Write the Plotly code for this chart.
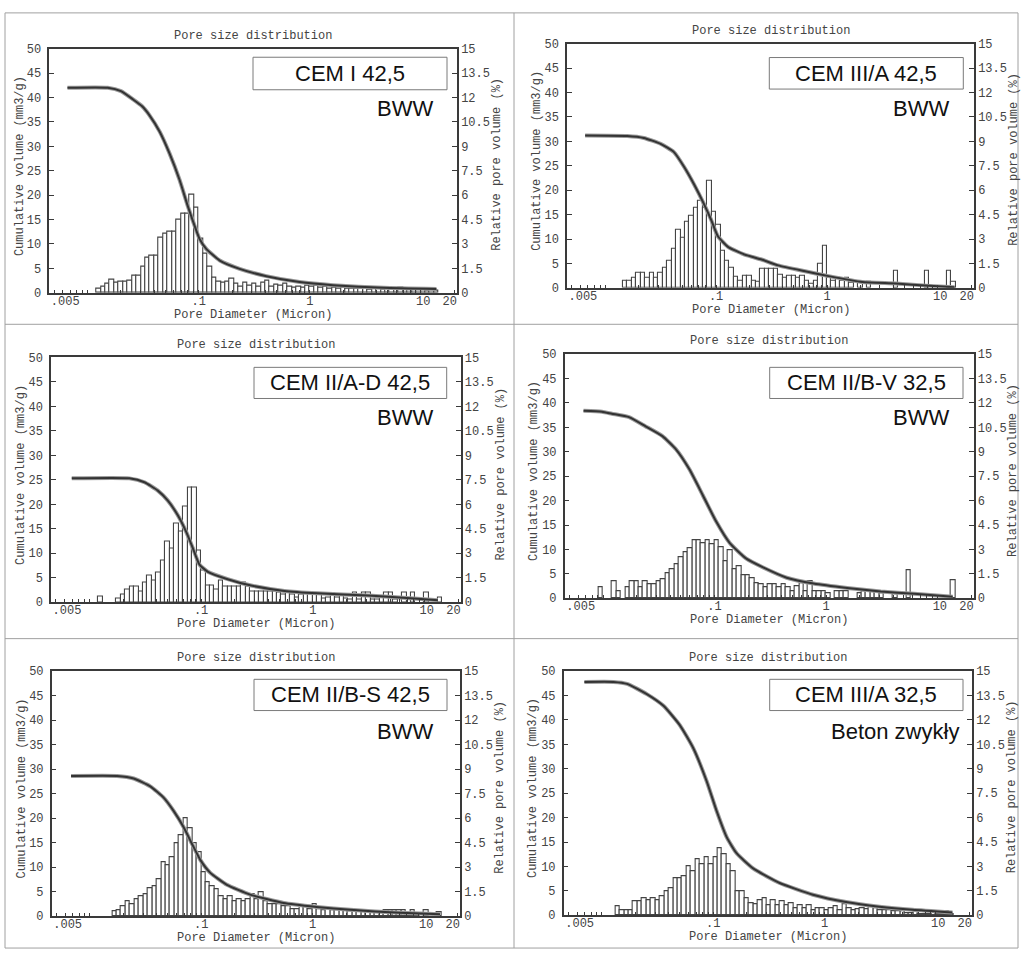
import numpy as np
import plotly.graph_objects as go

W, H = 1023, 959

# ---------------- data ----------------
# histogram bins: uniform in log10(diameter); bin k centre = BIN_LOG_START + k*BIN_LOG_STEP
BIN_LOG_START = -2.30
BIN_LOG_STEP = 0.04

panel_names = ["CEM I 42,5", "CEM III/A 42,5", "CEM II/A-D 42,5",
               "CEM II/B-V 32,5", "CEM II/B-S 42,5", "CEM III/A 32,5"]
panel_notes = ["BWW", "BWW", "BWW", "BWW", "BWW", "Beton zwykły"]

# relative pore volume (%) per bin, starting at bin index rel_first_bin[i]
rel_first_bin = [10, 12, 10, 7, 13, 11]

rel_p1 = [0.24, 0.39, 0.54, 0.81, 0.6, 0.69, 0.69, 0.75, 1.08, 1.08,
          1.59, 2.16, 2.31, 2.31, 3.36, 3.66, 3.78, 3.78, 4.5, 4.86,
          4.86, 6.0, 5.25, 3.3, 2.4, 1.59, 0.9, 0.66, 0.6, 0.66,
          0.84, 0.54, 0.36, 0.6, 0.45, 0.54, 0.36, 0.6, 0.72, 0.36,
          0.51, 0.45, 0.57, 0.39, 0.3, 0.39, 0.3, 0.45, 0.36, 0.45,
          0.3, 0.36, 0.27, 0.3, 0.24, 0.3, 0.24, 0.27, 0.24, 0.24,
          0.27, 0.21, 0.24, 0.24, 0.21, 0.24, 0.24, 0.27, 0.3, 0.27,
          0.21, 0.24, 0.18, 0.27, 0.15, 0.18, 0.12]
rel_p2 = [0.45, 0.45, 0.63, 0.9, 0.9, 0.63, 0.9, 0.63, 0.9, 1.26,
          1.65, 2.4, 3.54, 3.06, 4.05, 4.44, 4.95, 5.34, 4.95, 6.6,
          4.65, 3.9, 2.25, 1.65, 1.26, 0.66, 0.45, 0.75, 0.75, 0.45,
          0.39, 1.2, 1.2, 1.2, 1.2, 0.78, 0.6, 0.75, 0.75, 0.6,
          0.75, 0.45, 0.24, 0.45, 1.5, 2.58, 0.6, 0.45, 0.6, 0.45,
          0.6, 0.3, 0, 0.36, 0, 0.36, 0, 0, 0, 0,
          0, 1.05, 0, 0, 0, 0, 0, 0, 1.05, 0,
          0, 0, 0, 1.05, 0.36]
rel_p3 = [0.36, 0, 0, 0, 0.24, 0.45, 0.75, 0.99, 0.99, 0.66,
          1.2, 1.65, 1.35, 1.8, 2.55, 3.75, 3.3, 4.8, 4.35, 5.85,
          7.05, 7.05, 3.15, 1.95, 1.05, 1.05, 0.75, 1.35, 0.99, 0.99,
          0.99, 0.99, 1.2, 0.99, 0.66, 0.66, 0.66, 0.66, 0.66, 0.66,
          0.6, 0.45, 0.6, 0.45, 0.3, 0.45, 0.54, 0.54, 0.54, 0.54,
          0.24, 0.3, 0.54, 0.3, 0.45, 0.24, 0.15, 0.6, 0.15, 0.6,
          0.6, 0.15, 0.15, 0.3, 0.6, 0.6, 0.15, 0, 0.6, 0,
          0.6, 0, 0, 0.6, 0, 0, 0.3]
rel_p4 = [0.66, 0, 0, 1.05, 0.45, 0, 0.66, 1.05, 1.05, 0.66,
          1.05, 0.84, 0.84, 1.05, 1.2, 1.56, 1.8, 2.1, 2.55, 2.85,
          3.06, 3.54, 3.54, 3.36, 3.54, 3.3, 3.54, 3.15, 2.25, 2.94,
          1.8, 1.95, 1.44, 1.44, 1.26, 0.9, 0.84, 0.66, 0.84, 0.84,
          0.66, 0.84, 0.66, 0.45, 0.75, 0.9, 0.45, 1.05, 0.45, 0.45,
          0.45, 0.3, 0, 0.45, 0.45, 0.45, 0, 0, 0.3, 0.45,
          0.45, 0.45, 0.45, 0.3, 0, 0, 0.24, 0, 0, 1.74,
          0, 0, 0, 0, 0, 0, 0, 0, 0, 1.11]
rel_p5 = [0.3, 0.36, 0.6, 0.9, 0.75, 1.05, 1.2, 1.35, 1.74, 1.86,
          2.25, 3.3, 3.15, 3.6, 4.5, 4.95, 6.0, 5.4, 4.5, 3.9,
          2.7, 2.1, 1.86, 1.65, 1.2, 1.05, 1.2, 0.9, 1.05, 0.9,
          1.05, 1.35, 1.05, 1.5, 0.9, 0.75, 0.75, 0.75, 0.6, 0.6,
          0.45, 0.45, 0.6, 0.6, 0.45, 0.75, 0.45, 0.36, 0.45, 0.39,
          0.39, 0.39, 0.39, 0.3, 0.39, 0.3, 0.36, 0.3, 0.24, 0.3,
          0.24, 0.36, 0.36, 0.36, 0.36, 0.36, 0.15, 0.36, 0.15, 0,
          0.36, 0, 0, 0.24]
rel_p6 = [0.54, 0.3, 0.3, 0.3, 0.84, 0.84, 1.05, 0.9, 1.05, 0.9,
          1.2, 1.5, 1.65, 2.25, 2.25, 2.4, 3.0, 2.7, 3.45, 3.15,
          3.6, 3.15, 3.6, 4.14, 3.75, 3.15, 2.7, 1.5, 1.5, 1.05,
          0.75, 0.66, 0.9, 1.05, 0.6, 0.9, 0.6, 0.84, 0.6, 0.75,
          0.45, 0.6, 0.45, 0.6, 0.3, 0.45, 0.45, 0.3, 0.45, 0.54,
          0.3, 0.66, 0.45, 0.3, 0.36, 0.45, 0.36, 0.6, 0.45, 0.3,
          0.3, 0.3, 0.24, 0.24, 0.24, 0.15, 0.15, 0.24, 0.09, 0.09,
          0.09, 0.24, 0.09, 0.09, 0.24, 0.09]

# cumulative volume curves: pore diameter (micron) and volume (mm3/g)
cum_d_p1 = [0.0066, 0.0152, 0.0200, 0.0257, 0.031, 0.036, 0.0446, 0.0548, 0.0674, 0.080, 0.092,
            0.102, 0.117, 0.155, 0.234, 0.407, 0.81, 1.62, 4.6, 13.8]
cum_v_p1 = [42, 42, 41.3, 39.6, 38.2, 36.4, 33.0, 28.5, 23.1, 17.7, 13.7,
            11, 9, 6.6, 4.9, 3.4, 2.2, 1.55, 1.0, 0.75]
cum_d_p2 = [0.0066, 0.0158, 0.0223, 0.0316, 0.0417, 0.0514, 0.0636, 0.0784, 0.090, 0.1035,
            0.128, 0.181, 0.257, 0.363, 0.635, 1.035, 2.08, 4.17, 8.4, 14.1]
cum_v_p2 = [31.2, 31.1, 30.7, 29.5, 27.8, 24.8, 21.1, 17.0, 14, 10.6,
            8.4, 6.8, 5.8, 4.6, 3.4, 2.4, 1.2, 0.9, 0.4, 0.1]
cum_d_p3 = [0.00695, 0.0228, 0.0311, 0.041, 0.0502, 0.0617, 0.0734, 0.0842, 0.0966, 0.115,
            0.173, 0.281, 0.558, 1.11, 3.11, 8.7, 13.2]
cum_v_p3 = [25.3, 25.3, 24.5, 22.8, 20.8, 17.8, 14.4, 11.1, 7.7, 6.2,
            4.7, 3.4, 2.3, 1.8, 1.35, 0.7, 0.4]
cum_d_p4 = [0.00668, 0.0098, 0.012, 0.0171, 0.0241, 0.0341, 0.0451, 0.0595, 0.0785, 0.1035,
            0.137, 0.193, 0.273, 0.444, 0.774, 1.55, 3.1, 6.2, 13.7]
cum_v_p4 = [38.4, 38.2, 37.8, 37.1, 35.2, 33.2, 30.5, 26.4, 21.1, 15.7,
            11.3, 8.1, 6.3, 4.2, 3.0, 2.1, 1.4, 0.9, 0.3]
cum_d_p5 = [0.00676, 0.0175, 0.0247, 0.0348, 0.0459, 0.0564, 0.0693, 0.0824, 0.098, 0.12,
            0.17, 0.275, 0.55, 1.09, 2.18, 6.1, 14.0]
cum_v_p5 = [28.6, 28.6, 28.1, 26.5, 24.2, 21.5, 18.2, 14.8, 11.5, 8.9,
            6.4, 4.4, 2.7, 1.9, 1.3, 0.7, 0.4]
cum_d_p6 = [0.00695, 0.0127, 0.0168, 0.0253, 0.0357, 0.0502, 0.0662, 0.0871, 0.107, 0.132,
            0.162, 0.228, 0.395, 0.787, 1.56, 3.11, 6.18, 14.1]
cum_v_p6 = [47.8, 47.8, 47.4, 45.3, 42.9, 38.9, 34.2, 27.5, 21.4, 16.0,
            12.7, 9.6, 6.6, 4.2, 2.7, 1.75, 1.1, 0.55]

x_tick_text = [".005", ".1", "1", "10", "20"]
x_tick_label_diam = [0.0063, 0.1, 1, 10.5, 18.2]
x_minor_diam = [0.005, 0.006, 0.007, 0.008, 0.009, 0.01, 0.02, 0.03, 0.04, 0.05, 0.06,
                0.07, 0.08, 0.09, 0.1, 0.2, 0.3, 0.4, 0.5, 0.6, 0.7, 0.8, 0.9, 1,
                2, 3, 4, 5, 6, 7, 8, 9, 10, 20]

rel_all = [rel_p1, rel_p2, rel_p3, rel_p4, rel_p5, rel_p6]
cum_d_all = [cum_d_p1, cum_d_p2, cum_d_p3, cum_d_p4, cum_d_p5, cum_d_p6]
cum_v_all = [cum_v_p1, cum_v_p2, cum_v_p3, cum_v_p4, cum_v_p5, cum_v_p6]

# ---------------- layout geometry (pixels) ----------------
plot_px = [(49.3, 43.3, 457, 291), (567, 38.3, 974, 286),
           (51, 356.7, 460.7, 605), (564.7, 353.3, 973.7, 601),
           (51.7, 675, 460, 923.7), (563.7, 675, 972, 922.7)]
box_px = [(253, 52, 447, 85), (769.3, 52.3, 963.3, 84.3),
          (254, 366.7, 446.7, 398.3), (769.7, 366.7, 963, 398.3),
          (254, 683.3, 447, 715), (769.7, 683.3, 963, 715)]
note_px = [(435, 104), (951.3, 104.3), (435, 417.3), (951.3, 417.7), (435, 736), (961.3, 736)]

X_RANGE = [-2.344, 1.325]
MONO = "Liberation Mono, Courier New, monospace"
SANS = "Liberation Sans, Arial, sans-serif"
TXT = "#444444"
AX = "#3a3a3a"


def px(x):
    return x / W


def py(y):
    return 1 - y / H


fig = go.Figure()
annotations = []
shapes = []
layout = {}

for i in range(6):
    n = i + 1
    xs = "" if n == 1 else str(n)
    x0, y0, x1, y1 = plot_px[i]
    # bars
    rel = np.array(rel_all[i], dtype=float)
    k = np.arange(rel_first_bin[i], rel_first_bin[i] + len(rel))
    centers = BIN_LOG_START + k * BIN_LOG_STEP
    mask = rel > 0
    fig.add_trace(go.Bar(x=centers[mask], y=rel[mask], width=BIN_LOG_STEP,
                         marker=dict(color="white", line=dict(color="#444444", width=1.1)),
                         xaxis=f"x{xs}", yaxis=f"y{xs}", showlegend=False, hoverinfo="skip"))
    # cumulative curve (halo + core)
    cx = np.log10(np.array(cum_d_all[i]))
    cy = cum_v_all[i]
    fig.add_trace(go.Scatter(x=cx, y=cy, mode="lines",
                             line=dict(color="#9a9a9a", width=4, shape="spline", smoothing=0.5),
                             xaxis=f"x{xs}", yaxis=f"y{n + 6}", showlegend=False, hoverinfo="skip"))
    fig.add_trace(go.Scatter(x=cx, y=cy, mode="lines",
                             line=dict(color="#333333", width=2, shape="spline", smoothing=0.5),
                             xaxis=f"x{xs}", yaxis=f"y{n + 6}", showlegend=False, hoverinfo="skip"))

    tickfont = dict(family=MONO, size=12, color=TXT)
    layout[f"xaxis{xs}"] = dict(
        domain=[px(x0), px(x1)], anchor=f"y{xs}", range=X_RANGE,
        showline=True, linecolor=AX, linewidth=1.5, mirror=True,
        tickmode="array", tickvals=list(np.log10(x_tick_label_diam)), ticktext=x_tick_text,
        ticks="", tickfont=tickfont, showgrid=False, zeroline=False,
        ticklabelstandoff=-4,
        minor=dict(tickmode="array", tickvals=list(np.log10(x_minor_diam)),
                   ticks="inside", ticklen=3, tickcolor=AX, tickwidth=1, showgrid=False),
        fixedrange=True)
    layout[f"yaxis{xs}"] = dict(
        domain=[py(y1), py(y0)], anchor=f"x{xs}", side="right", range=[0, 15],
        tickmode="linear", tick0=0, dtick=1.5, ticks="inside", ticklen=5, tickcolor=AX,
        showline=True, linecolor=AX, linewidth=1.5, showgrid=False, zeroline=False,
        tickfont=tickfont, fixedrange=True)
    layout[f"yaxis{n + 6}"] = dict(
        overlaying=f"y{xs}", anchor=f"x{xs}", side="left", range=[0, 50],
        tickmode="linear", tick0=0, dtick=5, ticks="inside", ticklen=5, tickcolor=AX,
        showline=True, linecolor=AX, linewidth=1.5, showgrid=False, zeroline=False,
        tickfont=tickfont, ticklabelstandoff=4, fixedrange=True)

    cxm = (x0 + x1) / 2
    cym = (y0 + y1) / 2
    afont = dict(family=MONO, size=12, color=TXT)
    annotations.append(dict(text="Pore size distribution", x=px(cxm), y=py(y0 - 13),
                            xref="paper", yref="paper", showarrow=False, font=afont,
                            xanchor="center", yanchor="middle"))
    annotations.append(dict(text="Pore Diameter (Micron)", x=px(cxm), y=py(y1 + 22.5),
                            xref="paper", yref="paper", showarrow=False, font=afont,
                            xanchor="center", yanchor="middle"))
    annotations.append(dict(text="Cumulative volume (mm3/g)", x=px(x0 - 30), y=py(cym - 5),
                            xref="paper", yref="paper", showarrow=False, font=afont,
                            textangle=-90, xanchor="center", yanchor="middle"))
    annotations.append(dict(text="Relative pore volume (%)", x=px(x1 + 40), y=py(cym - 6),
                            xref="paper", yref="paper", showarrow=False, font=afont,
                            textangle=-90, xanchor="center", yanchor="middle"))
    bx0, by0, bx1, by1 = box_px[i]
    shapes.append(dict(type="rect", xref="paper", yref="paper",
                       x0=px(bx0), x1=px(bx1), y0=py(by1), y1=py(by0),
                       line=dict(color="#7a7a7a", width=1), fillcolor="white", layer="above"))
    annotations.append(dict(text=panel_names[i], x=px((bx0 + bx1) / 2), y=py((by0 + by1) / 2),
                            xref="paper", yref="paper", showarrow=False,
                            font=dict(family=SANS, size=22, color="#111111"),
                            xanchor="center", yanchor="middle"))
    nx, ny = note_px[i]
    annotations.append(dict(text=panel_notes[i], x=px(nx), y=py(ny),
                            xref="paper", yref="paper", showarrow=False,
                            font=dict(family=SANS, size=22, color="#111111"),
                            xanchor="right", yanchor="middle"))

# panel separators
sep = dict(color="#a0a0a0", width=1)
shapes.append(dict(type="rect", xref="paper", yref="paper", x0=px(5), x1=px(1018),
                   y0=py(956), y1=py(7), line=sep, layer="below"))
shapes.append(dict(type="line", xref="paper", yref="paper", x0=px(514), x1=px(514),
                   y0=py(956), y1=py(7), line=sep, layer="below"))
for yy in (323, 642):
    shapes.append(dict(type="line", xref="paper", yref="paper", x0=px(5), x1=px(1018),
                       y0=py(yy), y1=py(yy), line=sep, layer="below"))

fig.update_layout(width=W, height=H, margin=dict(l=0, r=0, t=0, b=0),
                  paper_bgcolor="white", plot_bgcolor="white",
                  showlegend=False, annotations=annotations, shapes=shapes,
                  bargap=0, **layout)

fig.write_html("out.html")
